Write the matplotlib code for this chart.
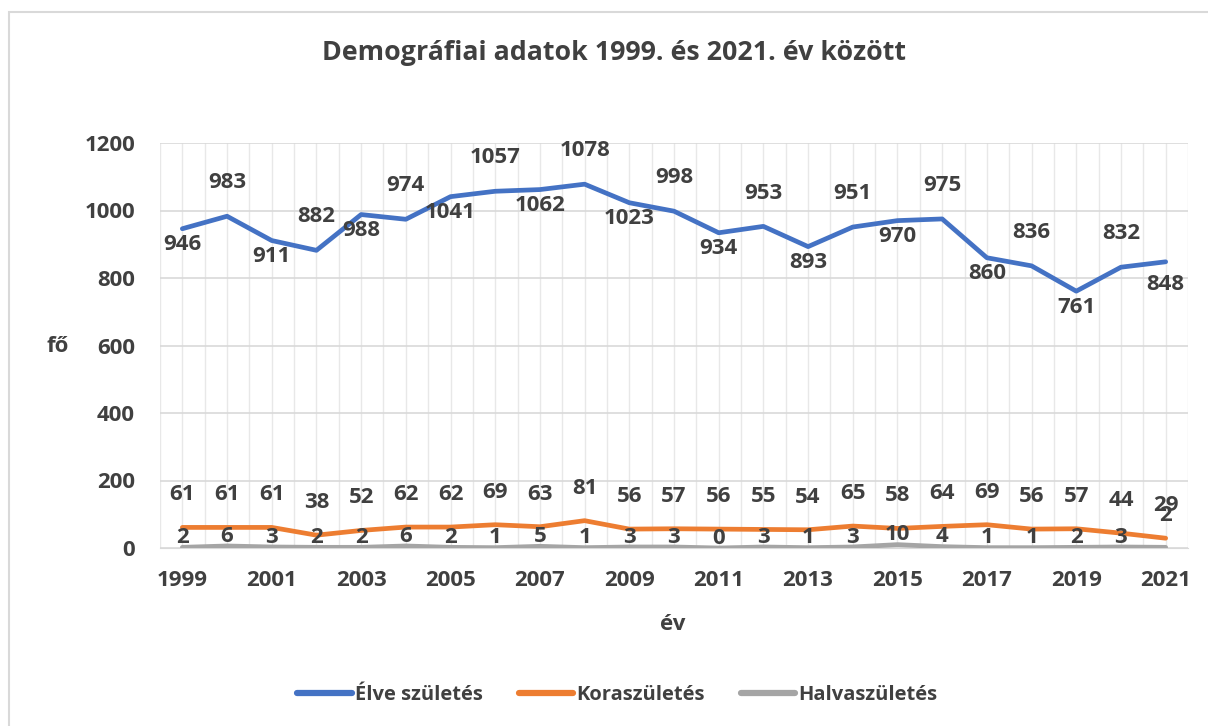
import matplotlib.pyplot as plt
import numpy as np

YEARS = list(range(1999, 2022))
ELVE = [946, 983, 911, 882, 988, 974, 1041, 1057, 1062, 1078, 1023, 998,
        934, 953, 893, 951, 970, 975, 860, 836, 761, 832, 848]
KORA = [61, 61, 61, 38, 52, 62, 62, 69, 63, 81, 56, 57,
        56, 55, 54, 65, 58, 64, 69, 56, 57, 44, 29]
HALVA = [2, 6, 3, 2, 2, 6, 2, 1, 5, 1, 3, 3,
         0, 3, 1, 3, 10, 4, 1, 1, 2, 3, 2]
X_TICKS = list(range(1999, 2022, 2))
Y_TICKS = list(range(0, 1201, 200))

TXT = "#404040"
BLUE = "#4472C4"
ORANGE = "#ED7D31"
GRAY = "#A5A5A5"

plt.rcParams["font.family"] = ["Open Sans", "DejaVu Sans"]
plt.rcParams["font.weight"] = "bold"

fig = plt.figure(figsize=(12.08, 7.26), dpi=100)
fig.patch.set_facecolor("white")
# chart border (only left and top edges fall inside the picture)
border = plt.Rectangle((9 / 1208, -0.05), 1.1, 1.05 - 12 / 726, transform=fig.transFigure,
                       fill=False, edgecolor="#d9d9d9", lw=1.5)
fig.add_artist(border)

ax = fig.add_axes([160 / 1208, 1 - 548 / 726, 1028 / 1208, 405 / 726])
ax.plot(YEARS, ELVE, color=BLUE, lw=3.4, solid_capstyle="round", label="Élve születés", zorder=3)
ax.plot(YEARS, KORA, color=ORANGE, lw=3.4, solid_capstyle="round", label="Koraszületés", zorder=3)
ax.plot(YEARS, HALVA, color=GRAY, lw=3.4, solid_capstyle="round", label="Halvaszületés", zorder=3)

ax.set_xlim(1998.5, 2021.45)
ax.set_ylim(0, 1200)
ax.set_xticks(X_TICKS)
ax.set_yticks(Y_TICKS)
ax.set_xticks(np.arange(1998.5, 2021.6, 0.5), minor=True)
ax.grid(True, which="both", axis="x", color="#e8e8e8", lw=1)
ax.grid(True, which="major", axis="y", color="#d9d9d9", lw=1.2)
ax.set_axisbelow(True)
ax.tick_params(axis="both", which="both", length=0, labelsize=16, colors=TXT)
ax.tick_params(axis="y", pad=18)
ax.tick_params(axis="x", pad=16)
for lab in ax.get_xticklabels() + ax.get_yticklabels():
    lab.set_fontweight("bold")
for s in ["top", "right", "left"]:
    ax.spines[s].set_visible(False)
ax.spines["bottom"].set_color("#d9d9d9")

lab_kw = dict(ha="center", va="center", fontsize=16, fontweight="bold", color=TXT,
              textcoords="offset points", zorder=4)
for i, (x, y) in enumerate(zip(YEARS, ELVE)):
    if x == 2021:
        off = (0, -16)
    elif i % 2 == 0:
        off = (0, -11.5)
    else:
        off = (0, 24)
    ax.annotate(str(y), (x, y), xytext=off, **lab_kw)
for x, y in zip(YEARS, KORA):
    ax.annotate(str(y), (x, y), xytext=(0, 23.5), **lab_kw)
for x, y in zip(YEARS, HALVA):
    off = (0, 23) if x == 2021 else (0, 7)
    ax.annotate(str(y), (x, y), xytext=off, **lab_kw)

ax.set_ylabel("fő", fontsize=16, fontweight="bold", color=TXT, rotation=0, va="center", ha="center")
ax.yaxis.set_label_coords(-0.1, (548 - 347) / 405)
ax.set_xlabel("év", fontsize=16, fontweight="bold", color=TXT, va="center")
ax.xaxis.set_label_coords((673 - 160) / 1028, -0.19)
fig.text(0.508, 1 - 53 / 726, "Demográfiai adatok 1999. és 2021. év között",
         ha="center", va="center", fontsize=19.3, fontweight="bold", color=TXT)

leg = fig.legend(loc="center", bbox_to_anchor=(0.511, 1 - 695 / 726), ncol=3, frameon=False,
                 fontsize=14.5, handlelength=2.7, columnspacing=1.8, handletextpad=0.15)
for t in leg.get_texts():
    t.set_color(TXT)
    t.set_fontweight("bold")
for h in leg.get_lines():
    h.set_linewidth(4.5)
    h.set_solid_capstyle("round")

fig.savefig("out.png", dpi=100)
